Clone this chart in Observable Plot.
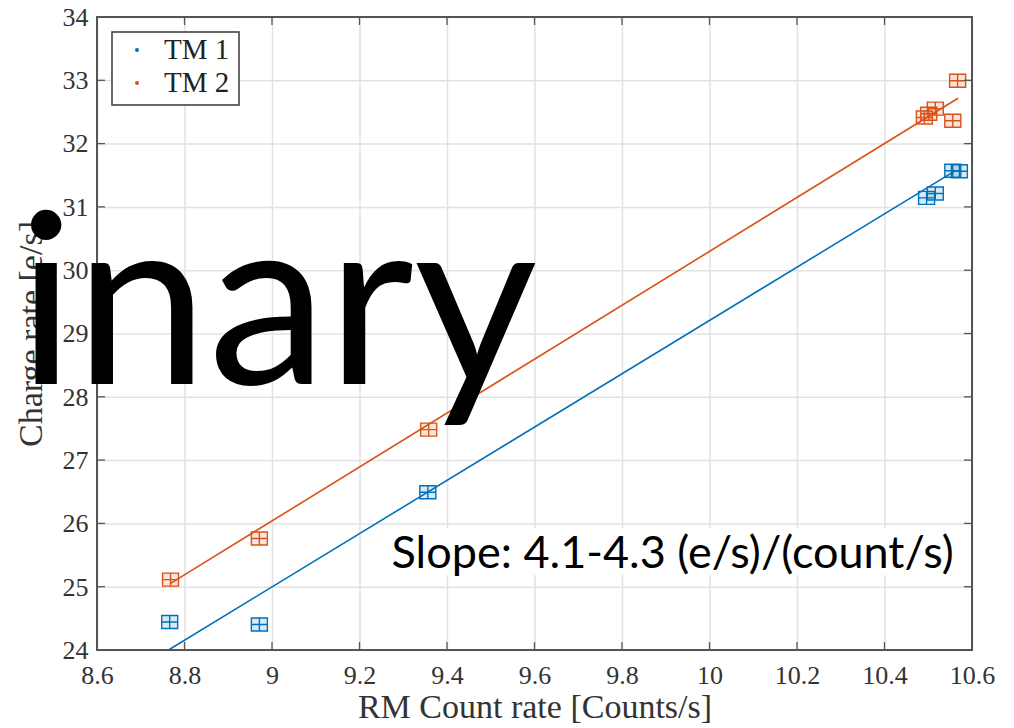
<!DOCTYPE html>
<html><head><meta charset="utf-8">
<script src="https://cdn.jsdelivr.net/npm/d3@7"></script>
<script src="https://cdn.jsdelivr.net/npm/@observablehq/plot@0.6"></script>
<style>body{margin:0;background:#fff}</style>
</head><body><div id="chart"></div>
<script>
// ---- data ----
const series = ["TM 1", "TM 2"];
const colors = ["#0072BD", "#D95319"];
const xTicks = [8.6, 8.8, 9, 9.2, 9.4, 9.6, 9.8, 10, 10.2, 10.4, 10.6];
const yTicks = [24, 25, 26, 27, 28, 29, 30, 31, 32, 33, 34];
const tm1X = [8.765, 8.97, 9.355, 10.495, 10.515, 10.555, 10.57];
const tm1Y = [24.45, 24.41, 26.50, 31.15, 31.22, 31.58, 31.57];
const tm2X = [8.767, 8.97, 9.357, 10.49, 10.50, 10.515, 10.555, 10.566];
const tm2Y = [25.12, 25.77, 27.49, 32.42, 32.48, 32.56, 32.37, 33.00];
const fit1X = [8.765, 10.561], fit1Y = [24.02, 31.58];
const fit2X = [8.767, 10.566], fit2Y = [25.06, 32.72];
const xLabel = "RM Count rate [Counts/s]";
const yLabel = "Charge rate [e/s]";
const slopeText = "Slope: 4.1-4.3 (e/s)/(count/s)";
const overlayText = "inary";

// ---- tables ----
const points = [
  ...tm1X.map((x, i) => ({series: series[0], x, y: tm1Y[i]})),
  ...tm2X.map((x, i) => ({series: series[1], x, y: tm2Y[i]}))
];
const fits = [
  ...fit1X.map((x, i) => ({series: series[0], x, y: fit1Y[i]})),
  ...fit2X.map((x, i) => ({series: series[1], x, y: fit2Y[i]}))
];

const boxCross = {
  draw(ctx) {
    const w = 8, h = 6.5;
    ctx.moveTo(-w, -h); ctx.lineTo(w, -h); ctx.lineTo(w, h); ctx.lineTo(-w, h); ctx.closePath();
    ctx.moveTo(-w, 0); ctx.lineTo(w, 0);
    ctx.moveTo(0, -h); ctx.lineTo(0, h);
  }
};

const serif = "'Liberation Serif', 'Times New Roman', serif";
const sans = "Lato, 'Open Sans', sans-serif";

function frameTicks(index, {x, y}, values, dims) {
  const g = d3.create("svg:g");
  const l = dims.marginLeft, t = dims.marginTop;
  const r = dims.width - dims.marginRight, b = dims.height - dims.marginBottom;
  const L = 8;
  const st = "#555";
  for (const v of xTicks) {
    const px = x(v);
    g.append("line").attr("x1", px).attr("x2", px).attr("y1", b).attr("y2", b - L).attr("stroke", st).attr("stroke-width", 1.3);
    g.append("line").attr("x1", px).attr("x2", px).attr("y1", t).attr("y2", t + L).attr("stroke", st).attr("stroke-width", 1.3);
  }
  for (const v of yTicks) {
    const py = y(v);
    g.append("line").attr("x1", l).attr("x2", l + L).attr("y1", py).attr("y2", py).attr("stroke", st).attr("stroke-width", 1.3);
    g.append("line").attr("x1", r).attr("x2", r - L).attr("y1", py).attr("y2", py).attr("stroke", st).attr("stroke-width", 1.3);
  }
  g.append("rect").attr("x", l).attr("y", t).attr("width", r - l).attr("height", b - t)
    .attr("fill", "none").attr("stroke", st).attr("stroke-width", 2);
  return g.node();
}

function legend(index, scales, values, dims) {
  const g = d3.create("svg:g");
  const l = dims.marginLeft, t = dims.marginTop;
  g.append("rect").attr("x", l + 15).attr("y", t + 15).attr("width", 127).attr("height", 73)
    .attr("fill", "white").attr("stroke", "#444").attr("stroke-width", 1.6);
  series.forEach((s, i) => {
    const cy = t + 33 + i * 33;
    g.append("circle").attr("cx", l + 40).attr("cy", cy).attr("r", 2).attr("fill", colors[i]);
    g.append("text").attr("x", l + 67).attr("y", cy + 9).attr("text-anchor", "start")
      .attr("font-family", serif).attr("font-size", 29).attr("fill", "#222").text(s);
  });
  return g.node();
}

// white text box behind the slope annotation
function slopeBox(index, scales, values, dims) {
  const l = dims.marginLeft, t = dims.marginTop;
  const r = dims.width - dims.marginRight;
  const g = d3.create("svg:g");
  g.append("rect").attr("x", l + 286).attr("y", t + 511).attr("width", r - 8 - (l + 286)).attr("height", 47)
    .attr("fill", "white");
  return g.node();
}

const chart = Plot.plot({
  width: 1014,
  height: 728,
  marginLeft: 97,
  marginRight: 42,
  marginTop: 17,
  marginBottom: 78,
  style: {fontFamily: serif, fontSize: "26px", background: "white", color: "#222"},
  x: {domain: [8.6, 10.6], axis: null},
  y: {domain: [24, 34], axis: null},
  color: {domain: series, range: colors},
  marks: [
    Plot.gridX(xTicks, {stroke: "#e2e2e2", strokeOpacity: 1, strokeWidth: 1.5}),
    Plot.gridY(yTicks, {stroke: "#e2e2e2", strokeOpacity: 1, strokeWidth: 1.5}),
    // tick labels
    Plot.text(xTicks, {x: d => d, text: d => String(d), frameAnchor: "bottom", lineAnchor: "top", textAnchor: "middle",
      dy: 15, fontSize: 26, fontFamily: serif, fill: "#333"}),
    Plot.text(yTicks, {y: d => d, text: d => String(d), frameAnchor: "left", textAnchor: "end",
      dx: -9, fontSize: 26, fontFamily: serif, fill: "#333"}),
    Plot.line(fits, {x: "x", y: "y", z: "series", stroke: "series", strokeWidth: 1.6}),
    Plot.dot(points, {x: "x", y: "y", symbol: boxCross, stroke: "series", fill: "series", fillOpacity: 0.15, strokeWidth: 1.4}),
    slopeBox,
    frameTicks,
    legend,
    Plot.text([xLabel], {frameAnchor: "bottom", dy: 67, lineAnchor: "bottom", textAnchor: "middle", fontSize: 34, fill: "#333", fontFamily: serif}),
    Plot.text([yLabel], {frameAnchor: "left", dx: -66, rotate: -90, textAnchor: "middle", fontSize: 34, fill: "#333", fontFamily: serif}),
    Plot.text([slopeText], {frameAnchor: "top-left", dx: 294, dy: 550, textAnchor: "start", lineAnchor: "bottom",
      fontSize: 45, fill: "black", fontFamily: sans}),
    Plot.text([overlayText], {frameAnchor: "top-left", dx: -80, dy: 366, textAnchor: "start", lineAnchor: "bottom",
      fontSize: 239, fill: "black", fontFamily: sans})
  ]
});
document.getElementById("chart").appendChild(chart);
</script>
</body></html>
